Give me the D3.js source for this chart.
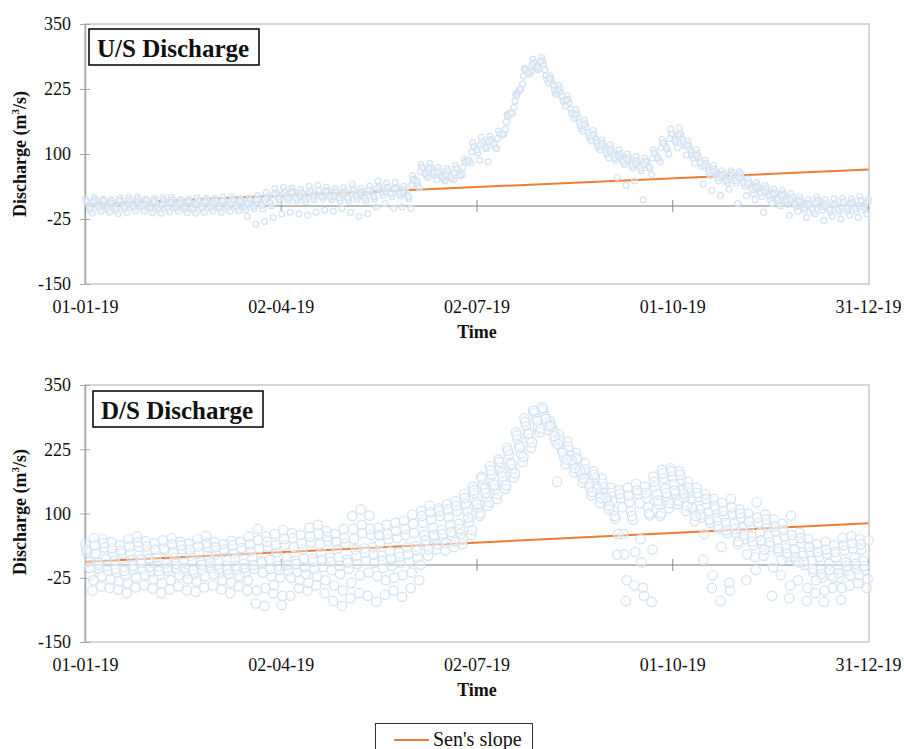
<!DOCTYPE html>
<html><head><meta charset="utf-8">
<script src="https://cdn.jsdelivr.net/npm/d3@7"></script>
<style>
body{margin:0;background:#fff}
svg{display:block}
</style>
</head><body>
<svg id="c" width="904" height="749"></svg>
<script>
// ---------- data ----------
const tickDays = [0, 91, 182, 273, 364];
const tickLabels = ["01-01-19", "02-04-19", "02-07-19", "01-10-19", "31-12-19"];
const yTicks = [350, 225, 100, -25, -150];
const sampleDays = d3.range(0, 365, 4);          // 92 sampling days
const seriesOffset = [0, 0.8, 1.6, 2.4, 3.2, 0.4, 2.0, 3.6]; // day offset of each reading series

// U/S discharge (m3/s), eight readings per 4-day step
const usA = [14,16,13,12,15,17,18,13,14,16,17,12,13,16,15,14,17,18,14,15,
  20,26,33,36,34,32,38,40,36,33,35,42,34,38,48,44,45,38,58,80,
  82,74,72,78,90,122,132,134,144,176,215,265,282,286,250,232,212,185,165,145,
  127,118,108,100,95,92,108,128,148,150,125,108,88,78,68,68,66,52,45,40,
  32,30,24,18,12,17,12,14,15,14,18,12];
const usB = [7,8,9,5,7,9,10,8,6,8,9,7,6,8,9,8,9,10,7,9,
  10,16,24,26,25,24,27,29,27,25,26,29,26,28,35,33,34,29,52,72,
  72,66,65,70,86,113,121,125,138,176,218,262,274,272,238,219,198,170,151,131,
  115,106,97,90,85,84,100,121,138,136,111,95,77,67,60,61,56,42,36,30,
  24,21,15,9,4,8,3,4,6,5,8,3];
const usC = [0,2,1,-2,0,2,3,1,-1,1,2,0,-1,1,2,1,2,3,0,2,
  3,8,17,18,17,16,20,21,19,17,18,22,18,21,28,26,25,22,45,64,
  66,58,58,63,88,108,116,120,136,180,222,258,268,262,232,211,186,160,141,122,
  108,98,89,82,77,78,96,116,131,128,103,86,68,58,52,53,48,34,28,22,
  15,12,6,1,-4,0,-5,-4,-2,-3,0,-5];
const usD = [-8,-5,-7,-9,-6,-4,-5,-7,-8,-6,-5,-7,-8,-6,-4,-6,-5,-4,-7,-5,
  -6,0,8,10,10,8,12,14,12,10,10,14,10,14,20,18,19,14,42,58,
  58,52,52,58,86,102,110,112,138,178,225,254,262,244,217,200,176,149,130,112,
  99,88,80,73,68,72,90,110,122,116,92,76,58,48,44,44,38,24,18,12,
  6,3,-2,-7,-12,-8,-13,-11,-10,-11,-8,-10];
const usE = [-14,-10,-12,-15,-12,-9,-10,-13,-14,-11,-10,-13,-14,-12,-9,-12,-10,-9,-20,-35,
  -30,-22,-15,-12,-15,-18,-12,-8,-10,-5,-12,-20,-15,-2,5,-4,-2,-5,35,55,
  50,48,50,60,82,88,85,110,148,190,235,258,264,236,215,193,168,144,125,108,
  92,55,40,48,12,60,85,100,112,98,82,42,30,20,32,5,20,12,-12,5,
  0,-18,-10,-22,-15,-28,-20,-25,-18,-22,-15,-10];
const usF = [10,12,11,9,10,12,14,11,10,11,12,11,9,11,12,12,11,13,11,12,
  14,18,26,28,28,26,30,31,30,28,28,32,28,31,38,36,36,31,50,74,
  76,68,68,72,84,114,124,128,138,172,212,262,276,280,244,226,205,178,158,138,
  121,111,101,94,88,86,102,121,138,140,117,101,82,71,62,64,61,46,39,34,
  26,24,18,12,6,11,6,6,8,8,11,6];
const usG = [-3,-1,-2,-4,-3,-1,0,-2,-3,-2,-1,-2,-3,-2,-1,-2,-1,0,-2,-1,
  1,5,13,15,15,13,17,18,17,15,15,19,15,18,25,23,23,18,48,62,
  63,55,55,59,88,107,113,119,138,178,225,257,267,251,223,203,179,155,135,116,
  103,93,85,78,73,75,93,112,126,122,98,82,64,54,48,49,44,31,24,19,
  12,9,3,-3,-7,-2,-8,-7,-5,-6,-3,-7];
const usH = [8,2,6,10,4,8,3,9,2,7,4,9,3,8,5,10,4,9,5,12,
  14,22,22,26,20,24,22,28,20,24,24,24,30,34,28,33,26,40,66,72,
  64,60,64,74,104,118,124,130,162,202,250,272,278,245,222,203,175,156,135,118,
  106,95,90,82,80,92,112,130,136,116,97,78,67,57,58,56,42,35,28,22,
  20,12,8,2,6,0,2,-2,4,0,6,0];

// D/S discharge (m3/s)
const dsA = [40,52,50,44,38,50,55,46,42,48,52,45,41,50,56,44,40,47,45,55,
  70,55,60,68,62,58,72,78,66,60,70,95,108,96,72,78,82,86,98,
  105,115,110,118,124,138,
  152,172,192,205,228,258,285,300,303,280,255,240,218,198,182,168,
  150,145,150,158,152,172,185,188,182,162,150,138,128,120,
  128,108,100,122,98,88,80,96,62,50,40,45,38,52,56,50,48];
const dsB = [25,22,34,20,22,22,35,24,14,28,25,30,18,24,35,20,25,22,28,26,
  32,35,24,38,35,30,44,40,46,30,42,50,62,58,42,50,52,58,62,
  82,88,95,92,105,118,
  140,156,176,190,215,244,270,296,300,268,240,222,205,178,170,150,
  125,130,122,138,130,152,168,172,165,140,132,118,108,95,
  100,92,75,82,78,65,55,48,42,25,15,22,14,28,32,30,26];
const dsC = [5,4,12,8,-4,10,10,12,-2,2,14,4,6,5,15,8,-2,12,2,14,
  8,10,-2,14,8,12,12,24,14,15,10,30,32,34,18,26,24,34,36,
  58,72,68,78,80,104,
  122,148,158,180,198,232,255,285,288,258,222,212,188,168,152,140,
  105,112,104,120,112,138,148,158,145,128,108,102,85,82,
  80,72,55,62,56,48,32,30,18,8,-8,2,-2,5,14,8,10];
const dsD = [-20,-8,-12,-15,-22,-10,-8,-14,-20,-12,-8,-16,-18,-10,-6,-16,-18,-10,-16,-8,
  -15,-22,-25,-12,-16,-18,-8,-4,-10,-18,-8,2,8,4,-6,-2,4,6,14,
  38,52,50,56,60,82,
  110,130,148,162,186,216,245,268,276,242,210,196,175,150,140,124,
  90,20,88,5,96,118,132,138,130,108,92,82,70,62,
  62,50,38,40,36,25,15,8,0,-15,-25,-20,-25,-12,-8,-10,-12];
const dsE = [-50,-42,-45,-48,-55,-44,-40,-46,-55,-48,-42,-50,-52,-44,-40,-48,-55,-42,-50,-75,
  -80,-55,-78,-60,-45,-50,-40,-55,-70,-80,-65,-55,-60,-72,-58,-50,-62,-45,-30,
  18,30,28,35,40,58,
  95,115,128,148,170,200,228,258,262,162,196,180,160,135,120,108,
  20,-70,-40,-45,-72,95,110,118,105,85,10,-45,-70,-35,
  40,-30,15,18,-60,-20,-65,-30,-70,-55,-72,-45,-68,-40,-35,-45,-30];
const dsF = [30,38,42,32,28,36,44,36,30,32,40,38,30,36,42,34,30,38,33,40,
  48,45,38,50,52,42,55,60,55,45,52,70,78,70,58,60,66,70,80,
  95,102,105,108,115,130,
  145,168,184,200,222,252,278,300,306,272,245,230,208,186,175,158,
  140,138,135,145,140,162,178,182,175,150,140,128,115,105,
  112,100,85,92,88,75,68,58,52,35,25,30,25,38,42,40,36];
const dsG = [-6,0,-2,-8,-12,-2,4,-4,-12,-6,2,-6,-10,0,4,-8,-10,-2,-6,0,
  4,-8,-10,0,2,-4,6,10,6,-2,4,18,24,20,8,12,16,20,28,
  48,58,60,64,70,92,
  118,140,155,172,195,228,256,280,284,250,218,203,182,158,148,130,
  95,60,95,50,100,125,140,145,138,112,98,88,75,68,
  70,58,45,48,44,32,22,15,6,-8,-18,-10,-16,-2,2,-2,-4];
const dsH = [-30,-22,-28,-32,-36,-24,-20,-28,-36,-30,-20,-28,-32,-22,-18,-30,-34,-22,-30,-50,
  -45,-40,-60,-25,-30,-35,-22,-30,-40,-50,-35,-20,-15,-22,-30,-25,-20,-15,0,
  30,40,42,45,50,68,
  100,122,138,155,178,210,238,265,270,235,205,188,168,142,130,115,
  60,-30,25,-60,30,100,120,125,115,95,60,-20,35,-50,
  45,20,-10,30,-5,10,-40,5,-45,-30,-50,-25,-45,-20,-20,-28,-25];

// Sen's slope trend (value at first and last day)
const senUS = [3, 70];
const senDS = [6, 81];

// ---------- drawing ----------
const FONT = '"Liberation Serif", "DejaVu Serif", serif';
const svg = d3.select("#c").style("font-family", FONT);
const left = 85, right = 869;
const x = d3.scaleLinear().domain([0, 364]).range([left + 0.5, right - 0.5]);

const panels = [
  {top: 24, bottom: 284, title: "U/S Discharge", box: [89, 29, 170, 36], tpos: [97, 57],
   r: 2.9, series: [usA, usB, usC, usD, usE, usF, usG, usH], sen: senUS, ytitleY: 154, labelY: 313, timeY: 338},
  {top: 385, bottom: 642, title: "D/S Discharge", box: [93, 391, 170, 36], tpos: [101, 419],
   r: 4.7, series: [dsA, dsB, dsC, dsD, dsE, dsF, dsG, dsH], sen: senDS, ytitleY: 512, labelY: 671, timeY: 696}
];

function txt(sel) {
  return sel.style("font-family", FONT).attr("fill", "#111");
}

panels.forEach(p => {
  const y = d3.scaleLinear().domain([-150, 350]).range([p.bottom, p.top]);
  const g = svg.append("g");

  // plot border
  g.append("rect").attr("x", left).attr("y", p.top)
    .attr("width", right - left).attr("height", p.bottom - p.top)
    .attr("fill", "none").attr("stroke", "#c9c9c9").attr("stroke-width", 1.5);

  // y axis
  const yAxis = d3.axisLeft(y).tickValues(yTicks).tickSize(0).tickPadding(14)
    .tickFormat(d => String(d));
  const ya = g.append("g").attr("transform", `translate(${left},0)`).call(yAxis);
  ya.attr("font-family", null).attr("font-size", null);
  ya.select(".domain").attr("stroke", "#a6a6a6").attr("stroke-width", 1.5);
  txt(ya.selectAll(".tick text")).attr("font-size", 18);
  ya.selectAll(".tick").append("line").attr("x1", -5).attr("x2", 5)
    .attr("stroke", "#a6a6a6").attr("stroke-width", 1);

  // horizontal zero axis with cross ticks
  const y0 = y(0);
  g.append("line").attr("x1", left).attr("x2", right).attr("y1", y0).attr("y2", y0)
    .attr("stroke", "#a6a6a6").attr("stroke-width", 1.5);
  g.selectAll(".xt").data(tickDays).enter().append("line")
    .attr("x1", d => x(d)).attr("x2", d => x(d))
    .attr("y1", y0 - 6).attr("y2", y0 + 6)
    .attr("stroke", "#8a8a8a").attr("stroke-width", 1);

  // x labels at bottom
  txt(g.selectAll(".xl").data(tickDays).enter().append("text"))
    .attr("x", d => x(d)).attr("y", p.labelY)
    .attr("text-anchor", "middle").attr("font-size", 18)
    .text((d, i) => tickLabels[i]);

  // Sen's slope line
  g.append("line")
    .attr("x1", x(0)).attr("x2", x(364))
    .attr("y1", y(p.sen[0])).attr("y2", y(p.sen[1]))
    .attr("stroke", "#ed7d31").attr("stroke-width", 2);

  // scatter points
  const pts = [];
  p.series.forEach((arr, k) => {
    arr.forEach((v, i) => {
      const d = sampleDays[i] + seriesOffset[k];
      if (d <= 364) pts.push({d, v});
    });
  });
  g.append("g").selectAll("circle").data(pts).enter().append("circle")
    .attr("cx", d => x(d.d)).attr("cy", d => y(d.v)).attr("r", p.r)
    .attr("fill", "#fff").attr("fill-opacity", 0.35)
    .attr("stroke", "#d2e2f2").attr("stroke-width", 1.2);

  // title box
  g.append("rect").attr("x", p.box[0]).attr("y", p.box[1])
    .attr("width", p.box[2]).attr("height", p.box[3])
    .attr("fill", "#fff").attr("stroke", "#000").attr("stroke-width", 1.5);
  txt(g.append("text")).attr("x", p.tpos[0]).attr("y", p.tpos[1])
    .attr("font-size", 25).attr("font-weight", "bold").text(p.title);

  // y title
  const yt = txt(g.append("text"))
    .attr("transform", `translate(26,${p.ytitleY}) rotate(-90)`)
    .attr("text-anchor", "middle").attr("font-size", 18).attr("font-weight", "bold");
  yt.append("tspan").text("Discharge (m");
  yt.append("tspan").attr("font-size", 11).attr("dy", -7).text("3");
  yt.append("tspan").attr("dy", 7).text("/s)");

  // x title
  txt(g.append("text")).attr("x", x(182)).attr("y", p.timeY)
    .attr("text-anchor", "middle").attr("font-size", 18).attr("font-weight", "bold")
    .text("Time");
});

// legend
const lg = svg.append("g");
lg.append("rect").attr("x", 375.5).attr("y", 723.5).attr("width", 157).attr("height", 40)
  .attr("fill", "#fff").attr("stroke", "#333").attr("stroke-width", 1);
lg.append("line").attr("x1", 394).attr("x2", 429).attr("y1", 740).attr("y2", 740)
  .attr("stroke", "#ed7d31").attr("stroke-width", 2);
txt(lg.append("text")).attr("x", 433).attr("y", 746).attr("font-size", 20).text("Sen's slope");
</script>
</body></html>
